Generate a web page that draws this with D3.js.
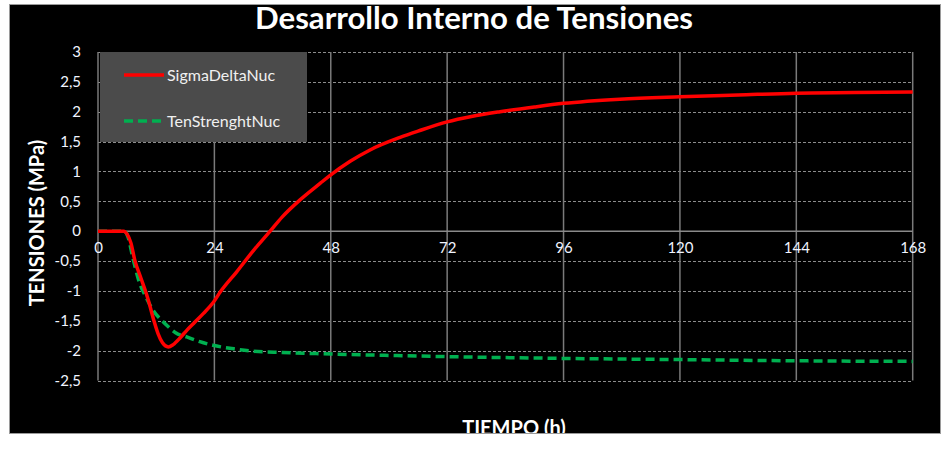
<!DOCTYPE html>
<html><head><meta charset="utf-8">
<script src="https://cdn.jsdelivr.net/npm/d3@7"></script>
<style>body{margin:0;background:#fff;}svg{display:block;}</style>
</head><body>
<script>
const title = "Desarrollo Interno de Tensiones";
const xLabel = "TIEMPO  (h)";
const yLabel = "TENSIONES (MPa)";
const seriesNames = ["SigmaDeltaNuc", "TenStrenghtNuc"];
const xTicks = [0, 24, 48, 72, 96, 120, 144, 168];
const yTicks = [3, 2.5, 2, 1.5, 1, 0.5, 0, -0.5, -1, -1.5, -2, -2.5];
const sigmaT = [0, 5.3, 6, 6.8, 7.6, 8.7, 10.4, 11.5, 12.4, 13.3, 14.5, 15.5, 17, 18.3, 20, 21.7, 23.8, 25.2, 28.6, 32, 35.5, 38, 41.6, 45.8, 47.8, 52, 56.1, 62.3, 66, 72, 77, 82.9, 90, 96, 107.6, 120, 132, 144, 156, 168];
const sigmaV = [0, 0, -0.05, -0.2, -0.49, -0.75, -1.16, -1.49, -1.72, -1.87, -1.94, -1.9, -1.78, -1.66, -1.52, -1.38, -1.19, -1.02, -0.68, -0.33, 0, 0.24, 0.52, 0.8, 0.93, 1.17, 1.36, 1.57, 1.675, 1.83, 1.92, 2.0, 2.08, 2.14, 2.21, 2.25, 2.28, 2.31, 2.32, 2.33];
const tenT = [0, 5.5, 6.2, 7.2, 8.5, 10, 11.4, 13.1, 14.5, 16, 18.3, 21, 23.7, 28, 32, 38, 45, 60, 72, 96, 120, 144, 168];
const tenV = [0, 0, -0.1, -0.45, -0.85, -1.12, -1.33, -1.49, -1.6, -1.7, -1.77, -1.85, -1.91, -1.97, -2.01, -2.03, -2.05, -2.08, -2.1, -2.13, -2.15, -2.17, -2.18];

const W = 951, H = 463;
const font = "Lato, 'Open Sans', sans-serif";
const svg = d3.select("body").append("svg").attr("width", W).attr("height", H);
svg.append("rect").attr("width", W).attr("height", H).attr("fill", "#fff");
svg.append("clipPath").attr("id", "bg").append("rect").attr("x", 10).attr("y", 5).attr("width", 930).attr("height", 428);
svg.append("rect").attr("x", 9.5).attr("y", 4.5).attr("width", 931).attr("height", 429)
  .attr("fill", "#000").attr("stroke", "#9a9a9a").attr("stroke-width", 1);
const g0 = svg.append("g").attr("clip-path", "url(#bg)");

const x = d3.scaleLinear().domain([0, 168]).range([98, 912.7]);
const y = d3.scaleLinear().domain([-2.5, 3]).range([380.5, 52]);

// horizontal grid (dashed)
g0.append("g").selectAll("line").data(yTicks.filter(v => v !== 0)).join("line")
  .attr("x1", x(0)).attr("x2", x(168)).attr("y1", d => Math.round(y(d)) + 0.5).attr("y2", d => Math.round(y(d)) + 0.5)
  .attr("stroke", "#8c8c8c").attr("stroke-width", 1).attr("stroke-dasharray", "3,2");
// vertical grid (solid)
g0.append("g").selectAll("line").data(xTicks).join("line")
  .attr("x1", d => x(d)).attr("x2", d => x(d)).attr("y1", y(3)).attr("y2", y(-2.5))
  .attr("stroke", "#7a7a7a").attr("stroke-width", 1.5);
// zero axis
g0.append("line").attr("x1", x(0)).attr("x2", x(168)).attr("y1", y(0)).attr("y2", y(0))
  .attr("stroke", "#8a8a8a").attr("stroke-width", 1.5);

// x tick labels
const xAxis = d3.axisBottom(x).tickValues(xTicks).tickSize(0).tickPadding(0).tickFormat(d3.format("d"));
const xa = g0.append("g").attr("transform", `translate(0,${y(0) + 8})`).call(xAxis);
xa.select(".domain").remove();
xa.selectAll("text").attr("fill", "#f0f4ff").attr("font-family", font).attr("font-size", 15).attr("dy", "0.9em");

// y tick labels
const fmt = v => String(v).replace(".", ",");
const yAxis = d3.axisLeft(y).tickValues(yTicks).tickSize(0).tickPadding(0).tickFormat(fmt);
const ya = g0.append("g").attr("transform", `translate(81,0)`).call(yAxis);
ya.select(".domain").remove();
ya.selectAll("text").attr("fill", "#f0f4ff").attr("font-family", font).attr("font-size", 15);

// lines
const line = d3.line().x(d => x(d[0])).y(d => y(d[1])).curve(d3.curveMonotoneX);
const sigmaData = sigmaT.map((t, i) => [t, sigmaV[i]]);
const tenData = tenT.map((t, i) => [t, tenV[i]]);
g0.append("path").datum(tenData).attr("d", line).attr("fill", "none")
  .attr("stroke", "#00b050").attr("stroke-width", 3.5).attr("stroke-dasharray", "9,5");
g0.append("path").datum(sigmaData).attr("d", line).attr("fill", "none")
  .attr("stroke", "#ff0000").attr("stroke-width", 3.5);

// legend
const lg = g0.append("g");
lg.append("rect").attr("x", 100).attr("y", 52).attr("width", 207).attr("height", 90).attr("fill", "#4b4b4b");
lg.append("line").attr("x1", 124).attr("x2", 164).attr("y1", 75).attr("y2", 75).attr("stroke", "#ff0000").attr("stroke-width", 3.5);
lg.append("line").attr("x1", 124).attr("x2", 164).attr("y1", 121).attr("y2", 121).attr("stroke", "#00b050").attr("stroke-width", 3.5).attr("stroke-dasharray", "9,5");
lg.selectAll("text").data(seriesNames).join("text")
  .attr("x", 167).attr("y", (d, i) => i === 0 ? 75 : 121).attr("dy", "0.35em")
  .attr("fill", "#f0f0f0").attr("font-family", font).attr("font-size", 16).text(d => d);

// titles
g0.append("text").attr("x", 474).attr("y", 29).attr("text-anchor", "middle")
  .attr("fill", "#fff").attr("font-family", font).attr("font-weight", "bold").attr("font-size", 30)
  .attr("textLength", 438).attr("lengthAdjust", "spacingAndGlyphs").text(title);
g0.append("text").attr("x", 514).attr("y", 435).attr("text-anchor", "middle")
  .attr("fill", "#fff").attr("font-family", font).attr("font-weight", "bold").attr("font-size", 20).text(xLabel);
g0.append("text").attr("transform", "translate(44,223) rotate(-90)").attr("text-anchor", "middle")
  .attr("fill", "#fff").attr("font-family", font).attr("font-weight", "bold").attr("font-size", 20).text(yLabel);
</script>
</body></html>
